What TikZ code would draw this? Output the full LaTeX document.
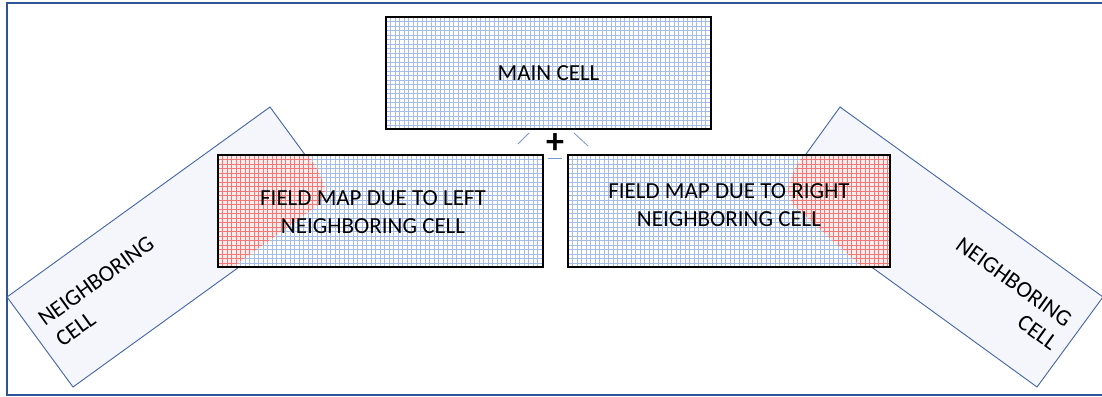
\documentclass[tikz,border=0pt]{standalone}
\usepackage{fontspec}
\setmainfont{Carlito}
\definecolor{framecol}{RGB}{47,85,151}
\definecolor{nbblue}{RGB}{68,100,168}
\definecolor{nbfill}{RGB}{244,246,252}
\definecolor{gridblue}{RGB}{166,188,232}
\definecolor{gridred}{RGB}{240,120,120}
\definecolor{redfill}{RGB}{253,236,236}
\definecolor{strayblue}{RGB}{120,150,210}
\begin{document}
\begin{tikzpicture}[x=1pt,y=-1pt,
  cellbox/.style={draw=black, line width=2.2pt},
  nbcell/.style={draw=nbblue, line width=0.9pt, fill=nbfill},
  lbl/.style={font=\fontsize{23}{28.5}\selectfont, text=black, inner sep=0pt, align=center},
  nblbl/.style={font=\fontsize{23}{28.5}\selectfont, text=black, inner sep=0pt},
  gridb/.style={draw=gridblue, line width=0.45pt},
  gridr/.style={draw=gridred, line width=0.45pt},
  thinblue/.style={draw=strayblue, line width=0.8pt}]
\useasboundingbox (0,0) rectangle (1102,396);
\fill[white] (0,0) rectangle (1102,396);

% outer frame (right edge lies beyond the picture)
\draw[framecol, line width=1.8pt] (1110,3) -- (7,3) -- (7,395) -- (1110,395);

% neighboring cells
\draw[nbcell] (270,107) -- (336,197) -- (73,387) -- (7,297) -- cycle;
\draw[nbcell] (840,107) -- (775,197) -- (1037,387) -- (1103,297) -- cycle;
\node[nblbl, rotate=35.8, anchor=base west] (nbl1) at (45,327) {NEIGHBORING};
\node[nblbl, rotate=35.8, anchor=base west] (nbl2) at (62.4,347.7) {CELL};
\node[nblbl, rotate=-35.8, anchor=base east] (nbr1) at (1065,328) {NEIGHBORING};
\node[nblbl, rotate=-35.8, anchor=base east] (nbr2) at (1050.8,351) {CELL};

% main cell
\begin{scope}
  \clip (386,17) rectangle (711,129);
  \fill[white] (386,17) rectangle (711,129);
  \foreach \x in {386,390.5,...,712} \draw[gridb] (\x,17) -- (\x,129);
  \foreach \y in {17,21.5,...,130} \draw[gridb] (386,\y) -- (711,\y);
\end{scope}
\draw[cellbox] (386,17) rectangle (711,129);
\node[lbl] (main) at (548.5,73) {MAIN CELL};

% left field map
\begin{scope}
  \clip (218,155) rectangle (543,267);
  \fill[white] (218,155) rectangle (543,267);
  \foreach \x in {218,222.5,...,544} \draw[gridb] (\x,155) -- (\x,267);
  \foreach \y in {155,159.5,...,268} \draw[gridb] (218,\y) -- (543,\y);
  \clip (218,155) -- (308,155) -- (318,170) -- (326,190) -- (318,205) -- (233,267) -- (218,267) -- cycle;
  \fill[redfill] (218,155) rectangle (543,267);
  \foreach \x in {218,222.5,...,544} \draw[gridr] (\x,155) -- (\x,267);
  \foreach \y in {155,159.5,...,268} \draw[gridr] (218,\y) -- (543,\y);
\end{scope}
\draw[cellbox] (218,155) rectangle (543,267);
\node[lbl] (leftmap) at (373,212) {FIELD MAP DUE TO LEFT\\NEIGHBORING CELL};

% right field map
\begin{scope}
  \clip (568,155) rectangle (890,267);
  \fill[white] (568,155) rectangle (890,267);
  \foreach \x in {568,572.5,...,891} \draw[gridb] (\x,155) -- (\x,267);
  \foreach \y in {155,159.5,...,268} \draw[gridb] (568,\y) -- (890,\y);
  \clip (803,155) -- (890,155) -- (890,267) -- (862,267) -- (793,205) -- (787,190) -- (794,170) -- cycle;
  \fill[redfill] (568,155) rectangle (890,267);
  \foreach \x in {568,572.5,...,891} \draw[gridr] (\x,155) -- (\x,267);
  \foreach \y in {155,159.5,...,268} \draw[gridr] (568,\y) -- (890,\y);
\end{scope}
\draw[cellbox] (568,155) rectangle (890,267);
\node[lbl] (rightmap) at (729,205) {FIELD MAP DUE TO RIGHT\\NEIGHBORING CELL};

% plus sign and small strokes
\node[font=\fontsize{36}{36}\selectfont\bfseries, inner sep=0pt] (plus) at (555,144) {+};
\coordinate (s1a) at (518,144); \coordinate (s1b) at (529,133);
\coordinate (s2a) at (574,133); \coordinate (s2b) at (588,146);
\coordinate (s3a) at (548,158); \coordinate (s3b) at (562,158);
\draw[thinblue] (s1a) -- (s1b);
\draw[thinblue] (s2a) -- (s2b);
\draw[thinblue] (s3a) -- (s3b);
\end{tikzpicture}
\end{document}
